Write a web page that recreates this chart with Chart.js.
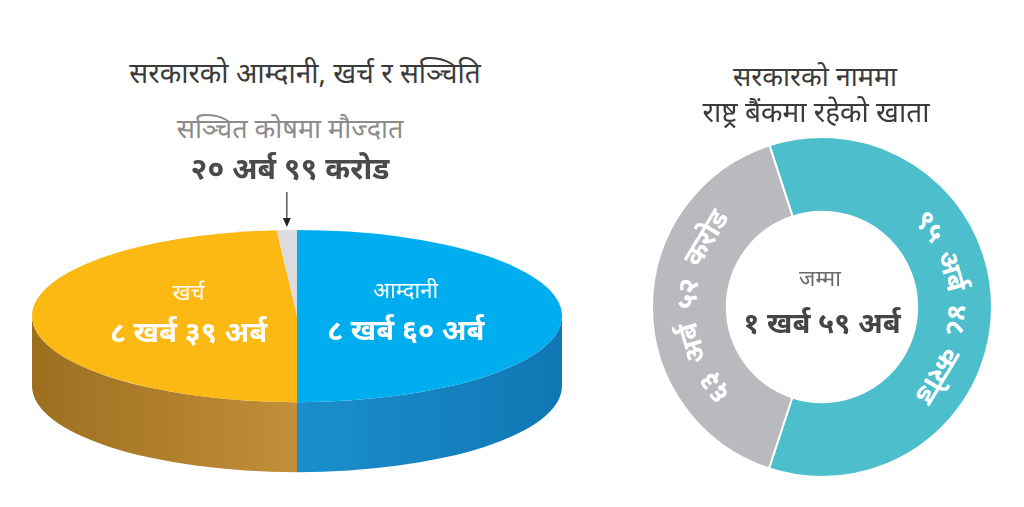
<!DOCTYPE html>
<html>
<head>
<meta charset="utf-8">
<script src="https://cdn.jsdelivr.net/npm/chart.js@4.4.1/dist/chart.umd.min.js"></script>
<style>
  body { margin: 0; width: 1024px; height: 507px; background: #fff; position: relative; overflow: hidden; font-family: 'Noto Sans', sans-serif; }
  .t { position: absolute; white-space: nowrap; transform: translateX(-50%); line-height: 1; z-index: 2; }
  #pieBox { position: absolute; left: 0; top: 156px; width: 594px; height: 320px; }
  #ringBox { position: absolute; left: 642px; top: 127px; width: 360px; height: 360px; }
</style>
</head>
<body>
<div class="t" style="left:305px; top:58px; font-size:28px; color:#3b3b3b;">सरकारको आम्दानी, खर्च र सञ्चिति</div>
<div class="t" style="left:290px; top:114px; font-size:27px; color:#8c8c8c;">सञ्चित कोषमा मौज्दात</div>
<div class="t" style="left:290px; top:153px; font-size:30px; font-weight:bold; color:#4a4a4a;">२० अर्ब ९९ करोड</div>

<div class="t" style="left:815px; top:62px; font-size:27px; color:#3b3b3b;">सरकारको नाममा</div>
<div class="t" style="left:816px; top:97px; font-size:28px; color:#3b3b3b;">राष्ट्र बैंकमा रहेको खाता</div>
<div class="t" style="left:820px; top:266px; font-size:22px; color:#6b6b6b;">जम्मा</div>
<div class="t" style="left:822px; top:307px; font-size:29px; font-weight:bold; color:#454545;">१ खर्ब ५९ अर्ब</div>

<div id="pieBox"><canvas id="pieChart"></canvas></div>
<div id="ringBox"><canvas id="ringChart"></canvas></div>

<script>
// सरकारको आम्दानी, खर्च र सञ्चिति (अर्ब रुपैयाँ)
var pieLabels = ['आम्दानी', 'खर्च', 'सञ्चित कोषमा मौज्दात'];
var pieValues = [860, 839, 20.99];
var pieValueText = ['८ खर्ब ६० अर्ब', '८ खर्ब ३९ अर्ब', '२० अर्ब ९९ करोड'];
var pieColors = ['#00aeef', '#fdb913', '#dcdcde'];

// राष्ट्र बैंकमा रहेको खाता (अर्ब रुपैयाँ)
var ringLabels = ['खाता १', 'खाता २'];
var ringValues = [95.48, 63.52];
var ringValueText = ['९५ अर्ब ४८ करोड', '६३ अर्ब ५२ करोड'];
var ringColors = ['#4dbfcc', '#b9babd'];

var FONT = "'Noto Sans', sans-serif";
var TILT = 0.325;
var DEPTH = 70;

function sideGradient(ctx, x0, x1, c0, c1) {
    var g = ctx.createLinearGradient(x0, 0, x1, 0);
    g.addColorStop(0, c0);
    g.addColorStop(1, c1);
    return g;
}

// squash the pie into an ellipse and give it a front wall
var tiltPlugin = {
    id: 'tilt',
    beforeDatasetsDraw: function (chart) {
        var ctx = chart.ctx;
        var arcs = chart.getDatasetMeta(0).data;
        var cx = arcs[0].x, cy = arcs[0].y, r = arcs[0].outerRadius;
        var sides = [
            sideGradient(ctx, cx, cx + r, '#1a8fcd', '#0f77b3'),
            sideGradient(ctx, cx - r, cx, '#9c6f1f', '#c28f3a'),
            '#b5b5b5'
        ];
        arcs.forEach(function (a, i) {
            var s = Math.max(a.startAngle, 0), e = Math.min(a.endAngle, Math.PI);
            if (e <= s) return;
            ctx.beginPath();
            ctx.ellipse(cx, cy, r, r * TILT, 0, s, e);
            ctx.ellipse(cx, cy + DEPTH, r, r * TILT, 0, e, s, true);
            ctx.closePath();
            ctx.fillStyle = sides[i];
            ctx.fill();
        });
        ctx.save();
        ctx.translate(cx, cy);
        ctx.scale(1, TILT);
        ctx.translate(-cx, -cy);
    },
    afterDatasetsDraw: function (chart) {
        var ctx = chart.ctx;
        ctx.restore();
        var arcs = chart.getDatasetMeta(0).data;
        var cx = arcs[0].x, cy = arcs[0].y, r = arcs[0].outerRadius;
        ctx.save();
        ctx.fillStyle = '#fff';
        ctx.textAlign = 'center';
        ctx.textBaseline = 'middle';
        for (var i = 0; i < 2; i++) {
            var a = arcs[i];
            var mid = (a.startAngle + a.endAngle) / 2;
            var x = cx + 0.41 * r * Math.cos(mid);
            var y = cy + 0.41 * r * TILT * Math.sin(mid);
            ctx.font = '22px ' + FONT;
            ctx.fillText(pieLabels[i], x, y - 24);
            ctx.font = 'bold 29px ' + FONT;
            ctx.fillText(pieValueText[i], x, y + 16);
        }
        // arrow to the thin slice
        var g = arcs[2];
        var gm = (g.startAngle + g.endAngle) / 2;
        var ax = cx + r * Math.cos(gm), ay = cy + r * TILT * Math.sin(gm);
        ctx.strokeStyle = '#333';
        ctx.fillStyle = '#222';
        ctx.lineWidth = 1.2;
        ctx.beginPath();
        ctx.moveTo(ax, ay - 38);
        ctx.lineTo(ax, ay - 10);
        ctx.stroke();
        ctx.beginPath();
        ctx.moveTo(ax - 4, ay - 12);
        ctx.lineTo(ax + 4, ay - 12);
        ctx.lineTo(ax, ay - 3);
        ctx.closePath();
        ctx.fill();
        ctx.restore();
    }
};

// write each value along its ring segment, word by word
var ringTextPlugin = {
    id: 'ringText',
    afterDatasetsDraw: function (chart) {
        var ctx = chart.ctx;
        var arcs = chart.getDatasetMeta(0).data;
        ctx.save();
        ctx.font = 'bold 28px ' + FONT;
        ctx.fillStyle = '#fff';
        ctx.textAlign = 'center';
        ctx.textBaseline = 'middle';
        arcs.forEach(function (a, i) {
            var R = (a.outerRadius + a.innerRadius) / 2 + 1;
            var mid = (a.startAngle + a.endAngle) / 2;
            var words = ringValueText[i].split(' ');
            var gap = ctx.measureText(' ').width * 1.8;
            var widths = words.map(function (w) { return ctx.measureText(w).width; });
            var total = widths.reduce(function (s, w) { return s + w; }, 0) + gap * (words.length - 1);
            var pos = -total / 2;
            words.forEach(function (w, j) {
                var ang = mid + (pos + widths[j] / 2) / R;
                ctx.save();
                ctx.translate(a.x + R * Math.cos(ang), a.y + R * Math.sin(ang));
                ctx.rotate(ang + Math.PI / 2);
                ctx.fillText(w, 0, 0);
                ctx.restore();
                pos += widths[j] + gap;
            });
        });
        ctx.restore();
    }
};

new Chart(document.getElementById('pieChart').getContext('2d'), {
    type: 'pie',
    data: {
        labels: pieLabels,
        datasets: [{ data: pieValues, backgroundColor: pieColors, borderWidth: 0, radius: 265 }]
    },
    options: {
        responsive: true,
        maintainAspectRatio: false,
        animation: false,
        rotation: 0,
        plugins: { legend: { display: false }, tooltip: { enabled: false } }
    },
    plugins: [tiltPlugin]
});

new Chart(document.getElementById('ringChart').getContext('2d'), {
    type: 'doughnut',
    data: {
        labels: ringLabels,
        datasets: [{ data: ringValues, backgroundColor: ringColors, borderWidth: 2, borderColor: '#fff', radius: 170 }]
    },
    options: {
        responsive: true,
        maintainAspectRatio: false,
        animation: false,
        rotation: -18,
        cutout: '56%',
        plugins: { legend: { display: false }, tooltip: { enabled: false } }
    },
    plugins: [ringTextPlugin]
});
</script>
</body>
</html>
